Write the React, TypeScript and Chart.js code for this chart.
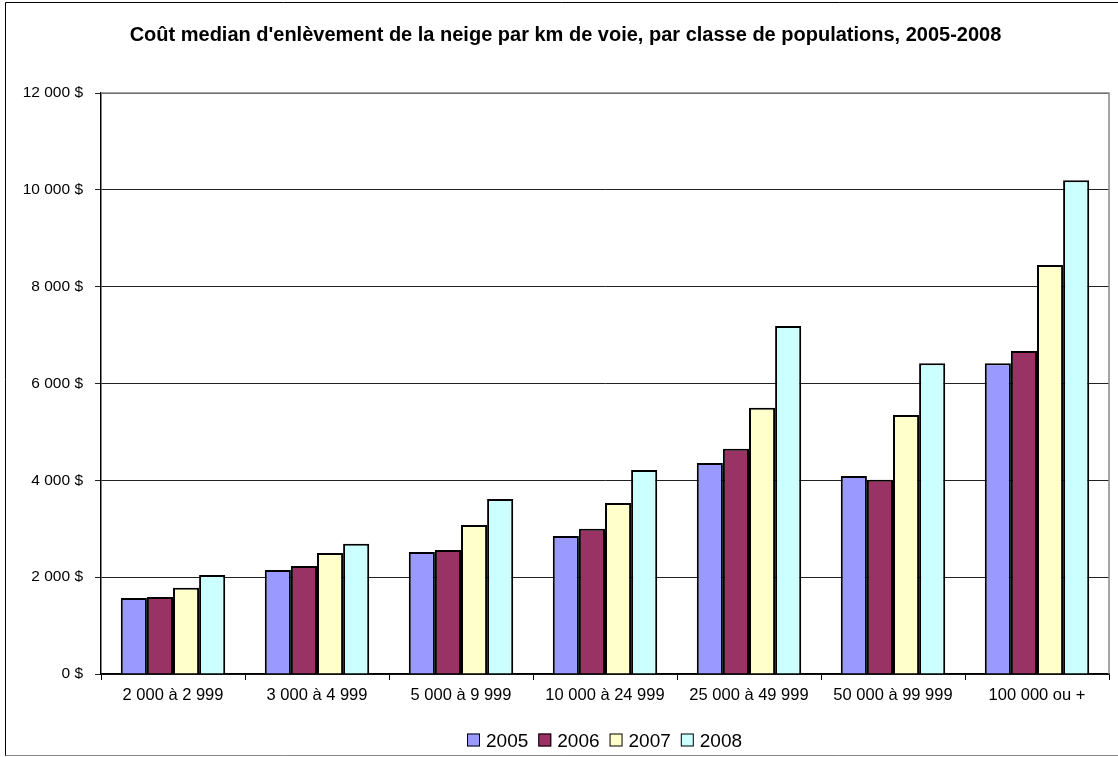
import React, { useEffect, useRef } from "react";
import { Chart, registerables } from "chart.js";

Chart.register(...registerables);

const categories = [
  "2 000 à 2 999",
  "3 000 à 4 999",
  "5 000 à 9 999",
  "10 000 à 24 999",
  "25 000 à 49 999",
  "50 000 à 99 999",
  "100 000 ou +",
];
const values2005 = [1570, 2150, 2520, 2850, 4360, 4090, 6420];
const values2006 = [1590, 2230, 2560, 3000, 4650, 4010, 6670];
const values2007 = [1780, 2500, 3080, 3530, 5500, 5350, 8450];
const values2008 = [2045, 2690, 3615, 4215, 7190, 6420, 10200];
const seriesLabels = ["2005", "2006", "2007", "2008"];
const seriesColors = ["#9999FF", "#993366", "#FFFFCC", "#CCFFFF"];
const yTicks = [0, 2000, 4000, 6000, 8000, 10000, 12000];
const title = "Coût median d'enlèvement de la neige par km de voie, par classe de populations, 2005-2008";

const FONT = "'Liberation Sans', Arial, sans-serif";

function fmt(v: number): string {
  return String(v).replace(/\B(?=(\d{3})+(?!\d))/g, " ") + " $";
}

const framePlugin = {
  id: "frame",
  beforeDraw(chart: any) {
    const ctx = chart.ctx;
    ctx.save();
    ctx.fillStyle = "#fff";
    ctx.fillRect(0, 0, chart.width, chart.height);
    ctx.lineWidth = 1;
    ctx.strokeStyle = "#000";
    ctx.beginPath();
    ctx.moveTo(5.5, 756);
    ctx.lineTo(5.5, 2.5);
    ctx.lineTo(1118, 2.5);
    ctx.stroke();
    ctx.strokeStyle = "#888";
    ctx.beginPath();
    ctx.moveTo(5.5, 755.5);
    ctx.lineTo(1118, 755.5);
    ctx.stroke();
    ctx.restore();
  },
  beforeDatasetsDraw(chart: any) {
    const { ctx, chartArea } = chart;
    ctx.save();
    ctx.strokeStyle = "#888";
    ctx.lineWidth = 1.5;
    ctx.beginPath();
    ctx.moveTo(chartArea.left, chartArea.top);
    ctx.lineTo(chartArea.right, chartArea.top);
    ctx.lineTo(chartArea.right, chartArea.bottom);
    ctx.stroke();
    ctx.restore();
  },
  afterDraw(chart: any) {
    const ctx = chart.ctx;
    ctx.save();
    // title
    ctx.fillStyle = "#000";
    ctx.font = `bold 20px ${FONT}`;
    ctx.textAlign = "center";
    ctx.textBaseline = "alphabetic";
    ctx.fillText(title, 565.5, 41);
    // legend
    ctx.font = `19px ${FONT}`;
    ctx.textAlign = "left";
    let x = 467;
    const box = 13;
    const cy = 740;
    seriesLabels.forEach((l, i) => {
      ctx.fillStyle = seriesColors[i];
      ctx.fillRect(x, cy - box / 2, box, box);
      ctx.strokeStyle = "#000";
      ctx.lineWidth = 1;
      ctx.strokeRect(x + 0.5, cy - box / 2 + 0.5, box - 1, box - 1);
      x += box + 6;
      ctx.fillStyle = "#000";
      ctx.fillText(l, x, 746.5);
      x += ctx.measureText(l).width + 10;
    });
    ctx.restore();
  },
};

export default function App() {
  const ref = useRef<HTMLCanvasElement>(null);
  useEffect(() => {
    document.body.style.margin = "0";
    const all = [values2005, values2006, values2007, values2008];
    const chart = new Chart(ref.current!, {
      type: "bar",
      data: {
        labels: categories,
        datasets: all.map((d, i) => ({
          label: seriesLabels[i],
          data: d,
          backgroundColor: seriesColors[i],
          borderColor: "#000",
          borderWidth: 2,
          categoryPercentage: 0.725,
          barPercentage: 1,
        })),
      },
      options: {
        responsive: false,
        animation: false,
        layout: { padding: { left: 0, right: 9, top: 93, bottom: 43 } },
        plugins: {
          tooltip: { enabled: false },
          title: { display: false },
          legend: { display: false },
        },
        scales: {
          x: {
            grid: {
              display: true,
              drawOnChartArea: false,
              drawTicks: true,
              tickLength: 6,
              color: "#000",
              offset: true,
            },
            border: { display: true, color: "#000", width: 1.5 },
            ticks: {
              color: "#000",
              font: { family: FONT, size: 16.5 },
              padding: 6,
              maxRotation: 0,
              autoSkip: false,
            },
            afterFit: (s: any) => {
              s.height = 40;
            },
          },
          y: {
            min: 0,
            max: 12000,
            afterBuildTicks: (s: any) => {
              s.ticks = yTicks.map((v) => ({ value: v }));
            },
            grid: {
              color: "#222",
              lineWidth: 1,
              tickLength: 6,
              drawTicks: true,
            },
            border: { display: true, color: "#000", width: 1.5 },
            ticks: {
              color: "#000",
              font: { family: FONT, size: 15.5 },
              padding: 12,
              callback: (v: any) => fmt(Number(v)),
            },
            afterFit: (s: any) => {
              s.width = 101;
            },
          },
        },
      },
      plugins: [framePlugin],
    });
    return () => chart.destroy();
  }, []);
  return (
    <div style={{ width: 1118, height: 757 }}>
      <canvas ref={ref} width={1118} height={757} style={{ display: "block" }} />
    </div>
  );
}
